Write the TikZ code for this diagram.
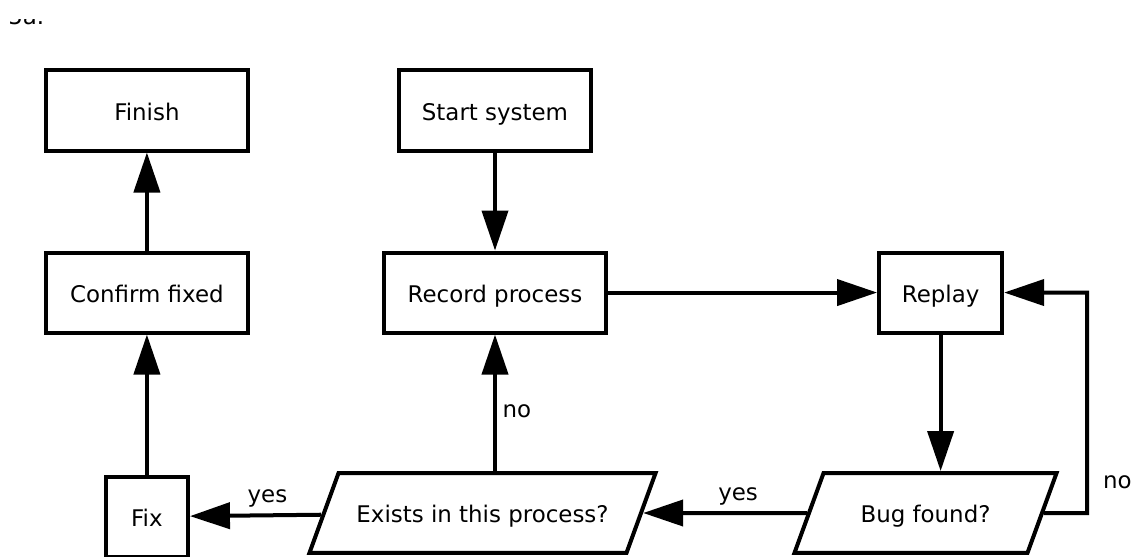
\documentclass[tikz,border=0pt]{standalone}
\usepackage{fontspec}
\setmainfont{DejaVu Sans}
\usetikzlibrary{arrows.meta, positioning, shapes.geometric}

\begin{document}
\begin{tikzpicture}[
    x=0.025cm, y=-0.025cm,
    font=\fontsize{16.3}{19}\selectfont,
    arr/.style={-{Triangle[length=1cm, width=0.65cm]}, line width=0.1cm},
    stepbox/.style={rectangle, draw, line width=0.1cm, minimum height=2.0cm, inner sep=0pt,
        text height=14.2pt, text depth=0pt},
    decision/.style={trapezium, draw, line width=0.1cm, trapezium left angle=70, trapezium right angle=110,
        trapezium stretches body, text height=14.2pt, text depth=0pt, inner xsep=0pt, inner ysep=21.3pt},
    lbl/.style={inner sep=4pt},
]
\useasboundingbox (0,0) rectangle (1137,557);

% cut-off text at the top
\begin{scope}
    \clip (0,20) rectangle (60,26);
    \node[anchor=base west, inner sep=0pt] (frag) at (8,25) {5a.};
\end{scope}

% main steps
\node[stepbox, minimum width=4.775cm] (start) at (495,110.5) {Start system};
\node[stepbox, minimum width=5.55cm, below=2.45cm of start] (record) {Record process};
\node[stepbox, minimum width=3.075cm, right=6.725cm of record] (replay) {Replay};
\node[stepbox, minimum width=5.05cm, left=3.3cm of record] (confirm) {Confirm fixed};
\node[stepbox, minimum width=5.05cm, above=2.45cm of confirm] (finish) {Finish};
\node[stepbox, minimum width=2.05cm, below=3.5cm of confirm] (fix) {Fix};

% decisions
\node[decision, minimum width=8.65cm] (exists) at (482.5,513) {Exists in this process?};
\node[decision, minimum width=6.55cm] (bug) at (925.5,513) {Bug found?};

% connectors
\draw[arr] (start) -- (record);
\draw[arr] (record) -- (replay);
\draw[arr] (replay.south) -- (replay.south |- bug.north);
\draw[arr] (bug) -- node[lbl, above, pos=0.42] {yes} (exists);
\draw[arr] (exists) -- node[lbl, above, pos=0.41] {yes} (fix);
\draw[arr] (exists.north -| record) -- node[lbl, right, pos=0.44] {no} (record);
\draw[arr] (fix) -- (confirm);
\draw[arr] (confirm) -- (finish);

% loop back to replay
\coordinate (loop) at (1087,513);
\draw[arr] (bug) -- (loop) |- node[lbl, right, pos=0.07, xshift=6pt] {no} (replay);

\end{tikzpicture}
\end{document}
